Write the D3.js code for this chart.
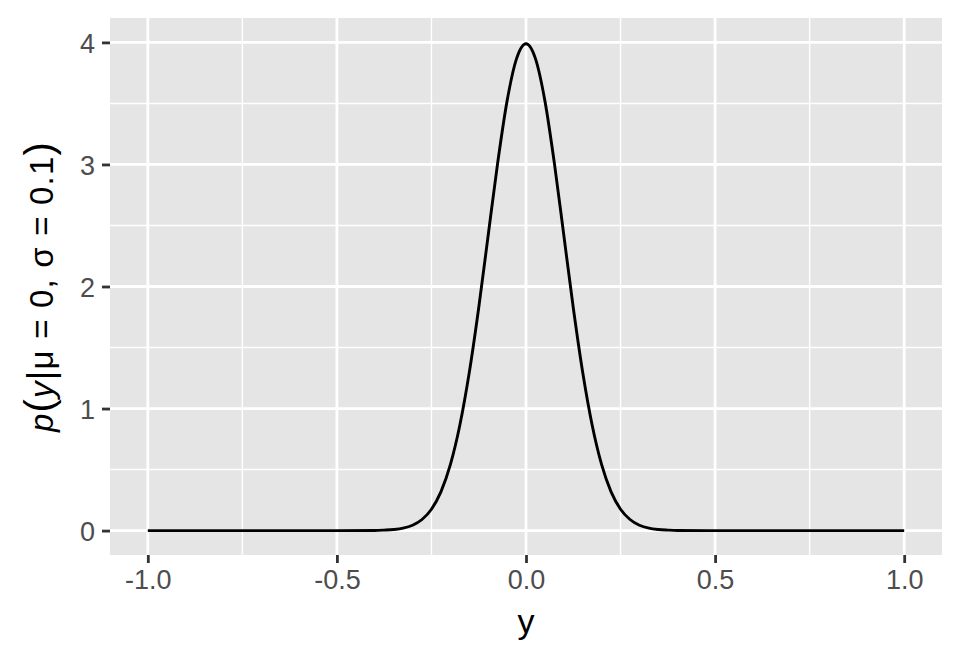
<!DOCTYPE html>
<html>
<head>
<meta charset="utf-8">
<script src="https://cdn.jsdelivr.net/npm/d3@7"></script>
<style>
  body { margin: 0; background: #fff; }
  text { font-family: "Liberation Sans", Arial, Helvetica, sans-serif; }
</style>
</head>
<body>
<script>
// density curve (x = y value, d = density)
var xs = [-1.0, -0.5, -0.4, -0.375, -0.35, -0.325, -0.3, -0.275, -0.25, -0.225, -0.2, -0.175, -0.15, -0.125, -0.1, -0.075, -0.05, -0.025,
          0, 0.025, 0.05, 0.075, 0.1, 0.125, 0.15, 0.175, 0.2, 0.225, 0.25, 0.275, 0.3, 0.325, 0.35, 0.375, 0.4, 0.5, 1.0];
var dens = [0, 0.0, 0.001, 0.004, 0.009, 0.02, 0.044, 0.091, 0.175, 0.317, 0.54, 0.863, 1.295, 1.826, 2.42, 3.011, 3.521, 3.867,
            3.989, 3.867, 3.521, 3.011, 2.42, 1.826, 1.295, 0.863, 0.54, 0.317, 0.175, 0.091, 0.044, 0.02, 0.009, 0.004, 0.001, 0.0, 0];
var xTicks = [-1.0, -0.5, 0.0, 0.5, 1.0];
var xMinor = [-0.75, -0.25, 0.25, 0.75];
var yTicks = [0, 1, 2, 3, 4];
var yMinor = [0.5, 1.5, 2.5, 3.5];

var data = xs.map(function(x, i){ return {x: x, d: dens[i]}; });

var width = 960, height = 660;
var margin = {left: 110, right: 18, top: 18, bottom: 105};
var w = width - margin.left - margin.right;
var h = height - margin.top - margin.bottom;

var x = d3.scaleLinear().domain([-1.1, 1.1]).range([0, w]);
var y = d3.scaleLinear().domain([-0.2, 4.2]).range([h, 0]);

var svg = d3.select("body").append("svg").attr("width", width).attr("height", height);
var g = svg.append("g").attr("transform", "translate(" + margin.left + "," + margin.top + ")");

g.append("rect").attr("width", w).attr("height", h).attr("fill", "#E5E5E5");

// minor grid
g.selectAll("line.xminor").data(xMinor).enter().append("line")
  .attr("x1", function(d){ return x(d); }).attr("x2", function(d){ return x(d); })
  .attr("y1", 0).attr("y2", h).attr("stroke", "#fff").attr("stroke-width", 1.4);
g.selectAll("line.yminor").data(yMinor).enter().append("line")
  .attr("y1", function(d){ return y(d); }).attr("y2", function(d){ return y(d); })
  .attr("x1", 0).attr("x2", w).attr("stroke", "#fff").attr("stroke-width", 1.4);
// major grid
g.selectAll("line.xmajor").data(xTicks).enter().append("line")
  .attr("x1", function(d){ return x(d); }).attr("x2", function(d){ return x(d); })
  .attr("y1", 0).attr("y2", h).attr("stroke", "#fff").attr("stroke-width", 2.8);
g.selectAll("line.ymajor").data(yTicks).enter().append("line")
  .attr("y1", function(d){ return y(d); }).attr("y2", function(d){ return y(d); })
  .attr("x1", 0).attr("x2", w).attr("stroke", "#fff").attr("stroke-width", 2.8);

var line = d3.line()
  .x(function(d){ return x(d.x); })
  .y(function(d){ return y(d.d); })
  .curve(d3.curveMonotoneX);

g.append("path").datum(data).attr("d", line)
  .attr("fill", "none").attr("stroke", "#000").attr("stroke-width", 2.9);

// axes
var xAxis = g.append("g").attr("transform", "translate(0," + h + ")")
  .call(d3.axisBottom(x).tickValues(xTicks).tickFormat(d3.format(".1f")).tickSizeOuter(0).tickSize(8).tickPadding(7));
var yAxis = g.append("g")
  .call(d3.axisLeft(y).tickValues(yTicks).tickFormat(d3.format("d")).tickSizeOuter(0).tickSize(8).tickPadding(7));
[xAxis, yAxis].forEach(function(a){
  a.select(".domain").remove();
  a.selectAll(".tick line").attr("stroke", "#333333").attr("stroke-width", 2.8);
  a.selectAll(".tick text").attr("fill", "#4D4D4D").style("font-size", "27px")
    .style("font-family", "'Liberation Sans', Arial, sans-serif");
});
xAxis.selectAll(".tick text").attr("dy", "0.72em").text(function(d){ return d3.format(".1f")(d).replace("−", "-"); });
yAxis.selectAll(".tick text").attr("dy", "0.36em");

// titles
svg.append("text").attr("x", margin.left + w / 2).attr("y", 633)
  .attr("text-anchor", "middle").style("font-size", "34px").attr("fill", "#000").text("y");

var yt = svg.append("text")
  .attr("transform", "translate(53," + (margin.top + h / 2) + ") rotate(-90)")
  .attr("text-anchor", "middle").style("font-size", "33px").style("letter-spacing", "1.2px").attr("fill", "#000");
yt.append("tspan").style("font-style", "italic").text("p");
yt.append("tspan").style("font-size", "40px").text("(");
yt.append("tspan").style("font-style", "italic").text("y");
yt.append("tspan").style("font-size", "37px").text("|");
yt.append("tspan").text("μ = 0,  σ = 0.1");
yt.append("tspan").style("font-size", "40px").text(")");
</script>
</body>
</html>
